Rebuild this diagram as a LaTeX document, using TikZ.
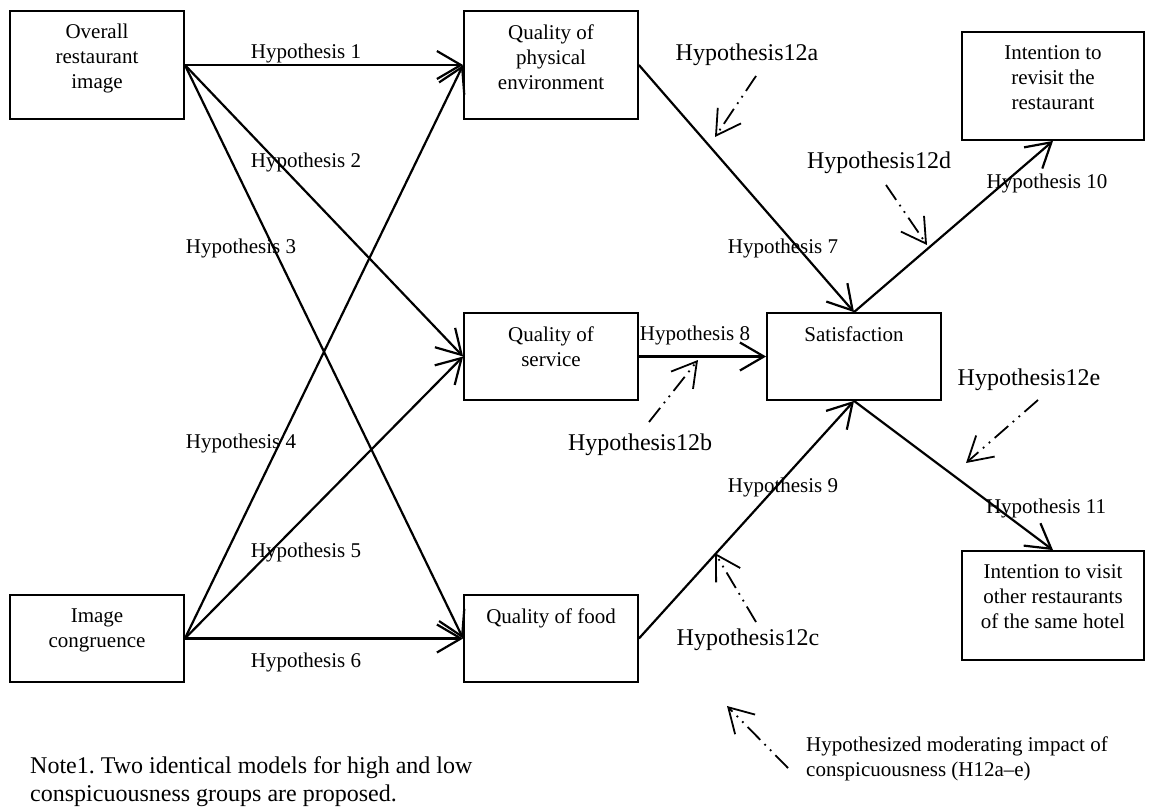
\documentclass[tikz,border=0pt]{standalone}
\usepackage{fontspec}
\setmainfont{Liberation Serif}
\usetikzlibrary{arrows.meta}
\newcommand{\hyfont}{\fontsize{21}{25}\selectfont}
\newcommand{\modfont}{\fontsize{24}{28}\selectfont}
\newcommand{\notefont}{\fontsize{24}{28}\selectfont}
\frenchspacing

\begin{document}
\begin{tikzpicture}[x=1pt,y=-1pt,font=\hyfont,>={Straight Barb[length=24pt,width=28pt]},
  box/.style={draw,line width=1.8pt,minimum width=174pt,inner sep=0pt},
  intext/.style={anchor=north,align=center,inner sep=0pt,yshift=-14pt},
  hyparrow/.style={line width=2.2pt,->},
  modarrow/.style={line width=1.8pt,->,dash pattern=on 18pt off 6pt on 1.8pt off 6pt on 1.8pt off 6pt},
  modlabel/.style={font=\modfont,inner sep=0pt}]
  \useasboundingbox (0,0) rectangle (1151,806);
  % boxes
  \node[box,minimum height=108pt,label={[intext]north:{Overall\\restaurant\\image}}] (img) at (97,65) {};
  \node[box,minimum height=87pt,label={[intext]north:{Image\\congruence}}] (cong) at (97,638.5) {};
  \node[box,minimum height=108pt,label={[intext]north:{Quality of\\physical\\environment}}] (phys) at (551,65) {};
  \node[box,minimum height=87pt,label={[intext]north:{Quality of\\service}}] (serv) at (551,356.5) {};
  \node[box,minimum height=87pt,label={[intext]north:{Quality of food}}] (food) at (551,638.5) {};
  \node[box,minimum height=87pt,label={[intext]north:{Satisfaction}}] (sat) at (854,356.5) {};
  \node[box,minimum width=182pt,minimum height=108pt,label={[intext]north:{Intention to\\revisit the\\restaurant}}] (revisit) at (1053,86) {};
  \node[box,minimum width=182pt,minimum height=109pt,label={[intext]north:{Intention to visit\\other restaurants\\of the same hotel}}] (other) at (1053,605.5) {};
  % hypothesized paths
  \draw[hyparrow] (img.east) -- (phys.west);
  \draw[hyparrow] (img.east) -- (serv.west);
  \draw[hyparrow] (img.east) -- (food.west);
  \draw[hyparrow] (cong.east) -- (phys.west);
  \draw[hyparrow] (cong.east) -- (serv.west);
  \draw[hyparrow] (cong.east) -- (food.west);
  \draw[hyparrow] (phys.east) -- (sat.north);
  \draw[hyparrow] (serv.east) -- (sat.west);
  \draw[hyparrow] (food.east) -- (sat.south);
  \draw[hyparrow] (sat.north) -- (revisit.south);
  \draw[hyparrow] (sat.south) -- (other.north);
  \node (h1) at (306,53) {Hypothesis 1};
  \node (h2) at (306,162) {Hypothesis 2};
  \node (h3) at (241,248) {Hypothesis 3};
  \node (h4) at (241,443) {Hypothesis 4};
  \node (h5) at (306,552) {Hypothesis 5};
  \node (h6) at (306,662) {Hypothesis 6};
  \node (h7) at (783,248) {Hypothesis 7};
  \node (h8) at (695,335) {Hypothesis 8};
  \node (h9) at (783,487) {Hypothesis 9};
  \node (h10) at (1047,183) {Hypothesis 10};
  \node (h11) at (1046,508) {Hypothesis 11};
  % moderating impact of conspicuousness
  \coordinate (ma1) at (756,76);    \coordinate (ma2) at (715,137);
  \coordinate (mb1) at (649,422);   \coordinate (mb2) at (698,360);
  \coordinate (mc1) at (756,622);   \coordinate (mc2) at (715,553);
  \coordinate (md1) at (886,185);   \coordinate (md2) at (927,245);
  \coordinate (me1) at (1038,400);  \coordinate (me2) at (966,463);
  \coordinate (key1) at (788,768);  \coordinate (key2) at (727,706);
  \foreach \m in {ma,mb,mc,md,me,key}
    \draw[modarrow] (\m1) -- (\m2);
  \node[modlabel] (h12a) at (747,55) {Hypothesis12a};
  \node[modlabel] (h12b) at (640,445) {Hypothesis12b};
  \node[modlabel] (h12c) at (748,640) {Hypothesis12c};
  \node[modlabel] (h12d) at (879,163) {Hypothesis12d};
  \node[modlabel] (h12e) at (1029,380) {Hypothesis12e};
  % key and note
  \node[anchor=west,align=left,inner sep=0pt] (key) at (806,759) {Hypothesized moderating impact of\\conspicuousness (H12a--e)};
  \node[anchor=west,align=left,inner sep=0pt,font=\notefont] (note) at (30,782) {Note1. Two identical models for high and low\\conspicuousness groups are proposed.};
\end{tikzpicture}
\end{document}
